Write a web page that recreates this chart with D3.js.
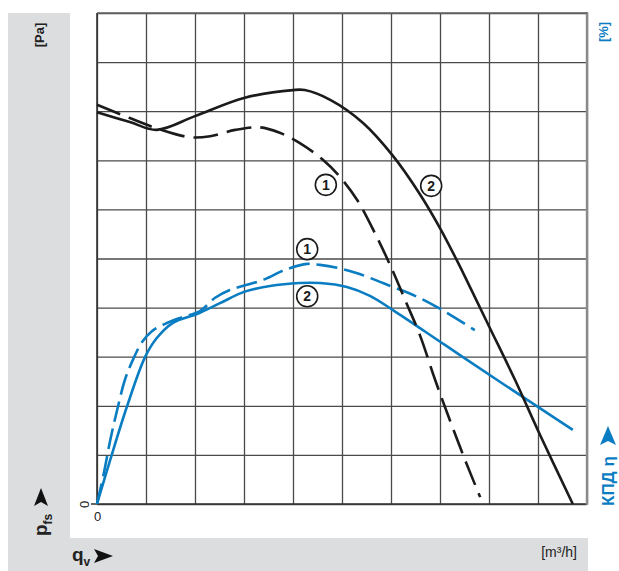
<!DOCTYPE html>
<html>
<head>
<meta charset="utf-8">
<script src="https://cdn.jsdelivr.net/npm/d3@7"></script>
<style>
  html, body { margin: 0; padding: 0; background: #fff; }
  svg { display: block; }
  text { font-family: "Liberation Sans Narrow", "Liberation Sans", Arial, sans-serif; }
</style>
</head>
<body>
<svg id="chart" width="619" height="571"></svg>
<script>
// Flow in grid units (0..10), pressure and efficiency in grid units (0..10)
const gridTicks = [0, 1, 2, 3, 4, 5, 6, 7, 8, 9, 10];

// Pressure curve 2 (solid black)
const p2Flow = [0, 0.67, 1.22, 2.0, 3.0, 4.0, 4.24, 4.76, 5.43, 6.04, 6.59, 7.0, 7.35, 7.65, 8.02, 8.53, 9.04, 9.71];
const p2Val  = [7.98, 7.78, 7.62, 7.90, 8.27, 8.43, 8.43, 8.23, 7.76, 7.09, 6.31, 5.62, 4.95, 4.34, 3.58, 2.53, 1.41, 0];

// Pressure curve 1 (dashed black)
const p1Flow = [0, 0.67, 1.22, 1.90, 2.31, 2.82, 3.33, 3.73, 4.14, 4.61, 4.96, 5.31, 5.67, 5.98, 6.29, 6.59, 6.90, 7.20, 7.51, 7.82];
const p1Val  = [8.13, 7.86, 7.65, 7.47, 7.49, 7.62, 7.67, 7.56, 7.35, 7.01, 6.66, 6.19, 5.52, 4.87, 4.15, 3.44, 2.53, 1.71, 0.90, 0.14];

// Efficiency curve 2 (solid blue)
const e2Flow = [0, 0.27, 0.61, 0.98, 1.22, 1.55, 2.04, 2.51, 3.0, 3.53, 4.14, 4.55, 5.10, 5.57, 6.04, 7.10, 8.16, 9.71];
const e2Val  = [0, 0.90, 1.98, 2.99, 3.38, 3.69, 3.87, 4.09, 4.32, 4.44, 4.50, 4.50, 4.42, 4.24, 3.95, 3.24, 2.53, 1.51];

// Efficiency curve 1 (dashed blue)
const e1Flow = [0, 0.14, 0.27, 0.41, 0.57, 0.73, 0.92, 1.12, 1.39, 1.69, 2.10, 2.41, 2.71, 3.12, 3.43, 3.84, 4.29, 4.55, 4.90, 5.31, 6.04, 6.49, 6.94, 7.31, 7.71];
const e1Val  = [0, 0.63, 1.30, 1.91, 2.53, 2.93, 3.30, 3.52, 3.67, 3.79, 3.93, 4.20, 4.36, 4.48, 4.58, 4.77, 4.89, 4.87, 4.81, 4.70, 4.42, 4.24, 4.01, 3.79, 3.54];

// Curve number markers: [label, flow, value]
const markers = [
  ["1", 4.67, 6.50],
  ["2", 6.82, 6.48],
  ["1", 4.29, 5.19],
  ["2", 4.29, 4.23]
];

const BLACK = "#1b1b1b";
const BLUE = "#0a7dc2";
const GRID = "#4a4a4a";
const PANEL = "#dcdddf";

const svg = d3.select("#chart");

// background panels
svg.append("rect").attr("x", 8).attr("y", 13).attr("width", 62).attr("height", 558).attr("fill", PANEL);
svg.append("rect").attr("x", 8).attr("y", 538).attr("width", 580).attr("height", 33).attr("fill", PANEL);

const plotL = 97, plotR = 587, plotT = 13, plotB = 504;
const x = d3.scaleLinear().domain([0, 10]).range([plotL, plotR]);
const y = d3.scaleLinear().domain([0, 10]).range([plotB, plotT]);

// vertical grid via bottom axis
const xAxis = svg.append("g")
  .attr("transform", `translate(0,${plotB})`)
  .call(d3.axisBottom(x).tickValues(gridTicks).tickSize(-(plotB - plotT)).tickFormat(d => d === 0 ? "0" : ""));
xAxis.select(".domain").remove();
xAxis.selectAll(".tick line").attr("stroke", GRID).attr("stroke-width", 1.3);
xAxis.selectAll(".tick text").attr("fill", "#222").attr("font-size", 13).attr("dy", "1.05em")
  .style("font-family", "Liberation Sans, Arial, sans-serif");

// horizontal grid via left axis
const yAxis = svg.append("g")
  .attr("transform", `translate(${plotL},0)`)
  .call(d3.axisLeft(y).tickValues(gridTicks).tickSize(-(plotR - plotL)).tickFormat(d => d === 0 ? "0" : ""));
yAxis.select(".domain").remove();
yAxis.selectAll(".tick line").attr("stroke", GRID).attr("stroke-width", 1.3);
yAxis.selectAll(".tick text")
  .attr("fill", "#222").attr("font-size", 13)
  .attr("text-anchor", "middle")
  .attr("x", 0)
  .attr("transform", "translate(-13,0) rotate(-90)")
  .attr("dy", "0.35em")
  .style("font-family", "Liberation Sans, Arial, sans-serif");

// frame: axis lines and right edge
svg.append("line").attr("x1", plotL).attr("x2", plotL).attr("y1", plotT).attr("y2", plotB)
  .attr("stroke", "#333").attr("stroke-width", 1.6);
svg.append("line").attr("x1", plotL - 6).attr("x2", plotR).attr("y1", plotB).attr("y2", plotB)
  .attr("stroke", "#333").attr("stroke-width", 1.6);
svg.append("line").attr("x1", plotR).attr("x2", plotR).attr("y1", plotT - 1).attr("y2", plotB + 1)
  .attr("stroke", "#8a8a8a").attr("stroke-width", 2.4);
svg.append("line").attr("x1", plotL).attr("x2", plotR).attr("y1", plotT).attr("y2", plotT)
  .attr("stroke", "#666").attr("stroke-width", 1.3);

const line = d3.line().x(d => x(d[0])).y(d => y(d[1])).curve(d3.curveCatmullRom.alpha(0.5));
const pairs = (xs, ys) => xs.map((v, i) => [v, ys[i]]);

const curves = [
  { data: pairs(e2Flow, e2Val), color: BLUE, dash: null },
  { data: pairs(e1Flow, e1Val), color: BLUE, dash: "21,7" },
  { data: pairs(p2Flow, p2Val), color: BLACK, dash: null },
  { data: pairs(p1Flow, p1Val), color: BLACK, dash: "25,9" }
];

svg.append("g").selectAll("path").data(curves).join("path")
  .attr("d", d => line(d.data))
  .attr("fill", "none")
  .attr("stroke", d => d.color)
  .attr("stroke-width", 2.6)
  .attr("stroke-linecap", "butt")
  .attr("stroke-dasharray", d => d.dash);

// curve number markers
const mk = svg.append("g").selectAll("g").data(markers).join("g")
  .attr("transform", d => `translate(${x(d[1])},${y(d[2])})`);
mk.append("circle").attr("r", 10.5).attr("fill", "#fff").attr("stroke", BLACK).attr("stroke-width", 1.6);
mk.append("text").text(d => d[0]).attr("text-anchor", "middle").attr("dy", "0.36em")
  .attr("font-size", 14).attr("font-weight", "bold").attr("fill", BLACK)
  .style("font-family", "Liberation Sans, Arial, sans-serif");

// axis titles
svg.append("text").attr("transform", "translate(44,35) rotate(-90)")
  .attr("text-anchor", "middle").attr("font-size", 13).attr("font-weight", "bold").attr("fill", "#222")
  .text("[Pa]");
svg.append("text").attr("transform", "translate(608,32) rotate(-90)")
  .attr("text-anchor", "middle").attr("font-size", 13).attr("font-weight", "bold").attr("fill", BLUE)
  .text("[%]");

// p_fs with arrow (rotated)
const pfs = svg.append("g").attr("transform", "translate(47,536) rotate(-90)");
const pt = pfs.append("text").attr("x", 0).attr("y", 0).attr("font-size", 19).attr("font-weight", "bold").attr("fill", "#222");
pt.append("tspan").text("p");
pt.append("tspan").attr("font-size", 12).attr("dy", 5).text("fs");
pfs.append("path").attr("d", "M30,-13 L48,-6 L30,1 L34,-6 Z").attr("fill", "#111");

// q_v with arrow
const qv = svg.append("g").attr("transform", "translate(72,561)");
const qt = qv.append("text").attr("font-size", 19).attr("font-weight", "bold").attr("fill", "#222");
qt.append("tspan").text("q");
qt.append("tspan").attr("font-size", 12).attr("dy", 5).text("v");
qv.append("path").attr("d", "M22,-12 L41,-5 L22,2 L26,-5 Z").attr("fill", "#111");

// flow unit
svg.append("text").attr("x", 577).attr("y", 557).attr("text-anchor", "end")
  .attr("font-size", 14).attr("fill", "#222").text("[m³/h]");

// efficiency label with arrow (rotated)
const eff = svg.append("g").attr("transform", "translate(614,506) rotate(-90)");
eff.append("text").attr("font-size", 17).attr("font-weight", "bold").attr("fill", BLUE).text("КПД η");
eff.append("path").attr("d", "M61,-14 L80,-6 L61,2 L65,-6 Z").attr("fill", BLUE);
</script>
</body>
</html>
